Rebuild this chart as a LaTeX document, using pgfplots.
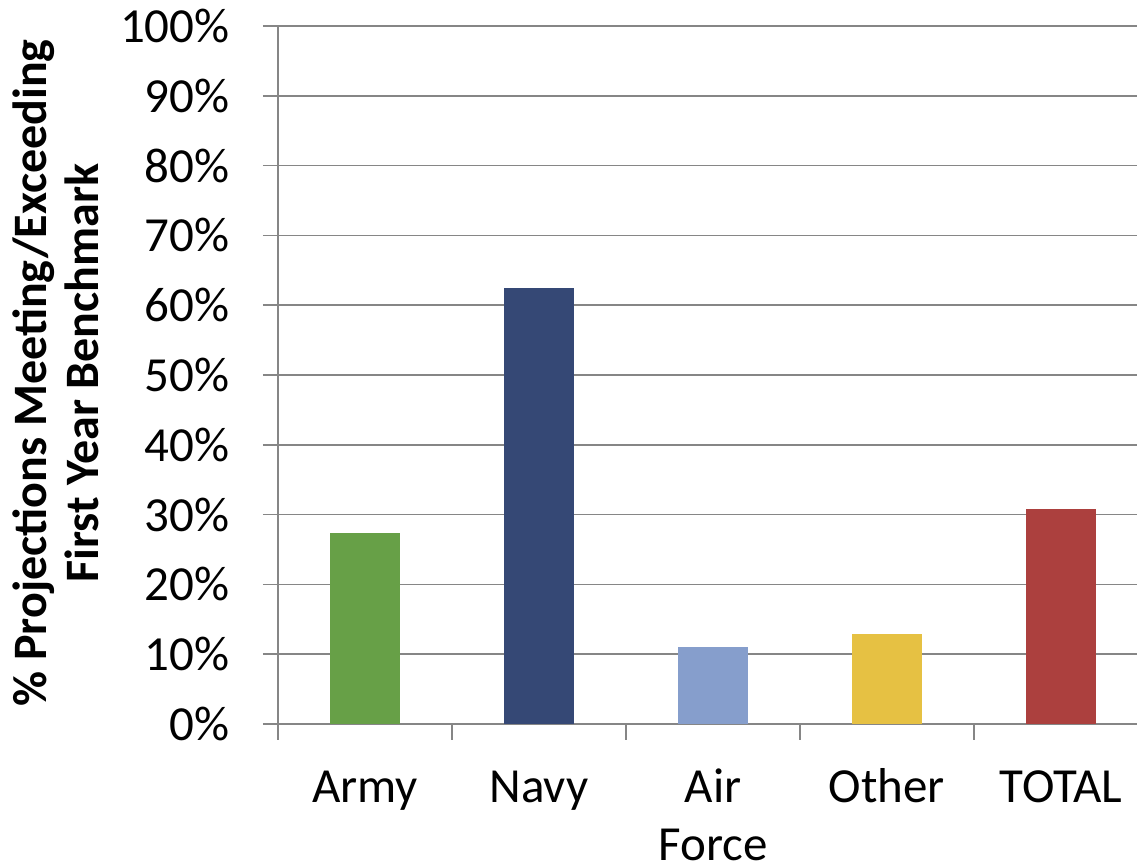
\documentclass[border=0pt]{standalone}
\usepackage{fontspec}
\setmainfont{Carlito}
\usepackage{pgfplots}
\pgfplotsset{compat=1.18}
\definecolor{cArmy}{RGB}{103,160,71}
\definecolor{cNavy}{RGB}{53,72,117}
\definecolor{cAir}{RGB}{134,158,204}
\definecolor{cOther}{RGB}{230,193,67}
\definecolor{cTotal}{RGB}{172,64,62}
\definecolor{gridgray}{RGB}{134,134,134}
\begin{document}
\begin{tikzpicture}
\begin{axis}[
  at={(0,0)}, anchor=south west,
  scale only axis,
  width=429.5pt, height=349pt,
  xmin=-0.5, xmax=4.437,
  ymin=0, ymax=100,
  axis x line*=bottom, axis y line*=left,
  axis line style={gridgray, line width=0.8pt},
  ymajorgrids,
  grid style={gridgray, line width=0.8pt},
  ytick={0,10,...,100},
  yticklabels={0\%,10\%,20\%,30\%,40\%,50\%,60\%,70\%,80\%,90\%,100\%},
  xtick={0,1,2,3,4},
  xticklabels={Army,Navy,{\begin{tabular}[t]{@{}c@{}}Air\\Force\end{tabular}},Other,TOTAL},
  minor xtick={-0.5,0.5,1.5,2.5,3.5},
  tick align=outside,
  major tick length=7.5pt,
  minor tick length=8pt,
  major x tick style={draw=none},
  minor x tick style={gridgray, line width=0.8pt},
  major y tick style={gridgray, line width=0.8pt},
  tick label style={font=\fontsize{24.5}{29}\selectfont},
  yticklabel style={inner sep=0pt, xshift=-16.5pt},
  xticklabel style={anchor=base, inner sep=0pt, yshift=-32pt},
  ylabel={\% Projections Meeting/Exceeding\\First Year Benchmark},
  ylabel style={anchor=center, rotate=0,
    align=center, font=\bfseries\fontsize{24}{26}\selectfont},
  every axis y label/.append style={at={([xshift=-111pt, yshift=1pt]rel axis cs:0,0.5)}},
  ybar, bar width=35pt,
]
\addplot[fill=cArmy, draw=none, bar shift=0pt] coordinates {(0,27.4)};
\addplot[fill=cNavy, draw=none, bar shift=0pt] coordinates {(1,62.5)};
\addplot[fill=cAir, draw=none, bar shift=0pt] coordinates {(2,11.0)};
\addplot[fill=cOther, draw=none, bar shift=0pt] coordinates {(3,12.9)};
\addplot[fill=cTotal, draw=none, bar shift=0pt] coordinates {(4,30.8)};
\end{axis}
\pgfresetboundingbox
\useasboundingbox (-139pt,-70.5pt) rectangle (429.5pt,362pt);
\end{tikzpicture}
\end{document}
